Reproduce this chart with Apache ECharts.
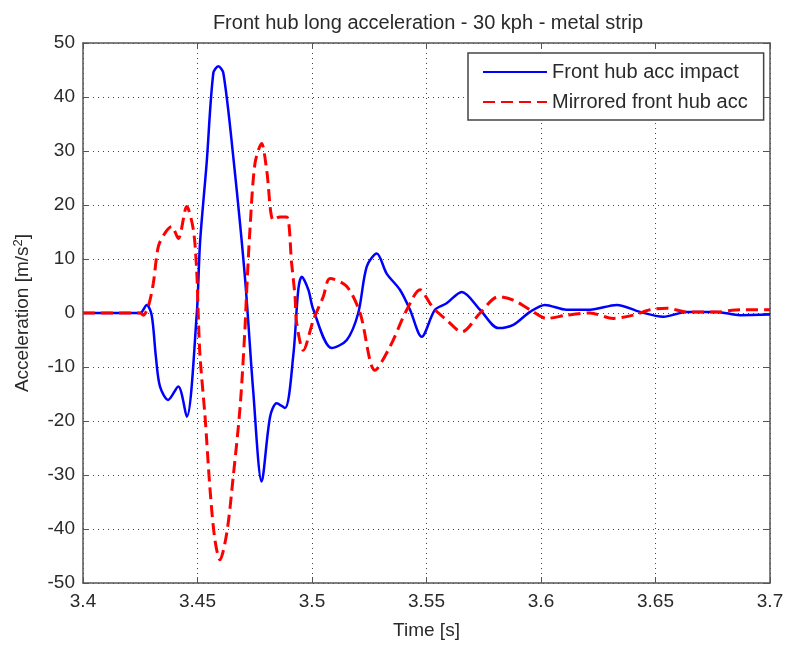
<!DOCTYPE html>
<html>
<head>
<meta charset="utf-8">
<script src="https://cdn.jsdelivr.net/npm/echarts@6/dist/echarts.min.js"></script>
<style>
  html, body { margin: 0; padding: 0; background: #fff; }
  #chart { width: 787px; height: 648px; }
</style>
</head>
<body>
<div id="chart"></div>
<script>
// time [s] and acceleration [m/s^2]
const impactTime = [3.4, 3.4249, 3.4278, 3.4300, 3.4318, 3.4336, 3.4372, 3.4416, 3.4453, 3.4497, 3.4511,
  3.4540, 3.4569, 3.4591, 3.4613, 3.4656, 3.4707, 3.4743, 3.4780, 3.4817, 3.4846, 3.4882, 3.4918, 3.4940,
  3.4955, 3.4984, 3.5006, 3.5086, 3.5152, 3.5202, 3.5239, 3.5283, 3.5326, 3.5384, 3.5428, 3.5479, 3.5537,
  3.5588, 3.5654, 3.5734, 3.5814, 3.5879, 3.5952, 3.6017, 3.6112, 3.6214, 3.6331, 3.6432, 3.6534, 3.6636,
  3.6767, 3.6869, 3.7];
const impactAcc = [0, 0, 1.5, -0.4, -8, -13.6, -16.1, -13.6, -19.2, 0, 13,
  27.8, 44.4, 45.7, 44.4, 29, 6.7, -14.3, -31.2, -19.2, -16.7, -17.6, -8, 4.3,
  6.7, 4.3, 0.6, -6.5, -5, 0, 8.6, 11, 7.3, 4.3, 0.6, -4.4, 0.6,
  1.8, 3.9, 0.6, -2.8, -2.2, 0.2, 1.5, 0.6, 0.6, 1.5, 0.2, -0.7, 0.2,
  0.2, -0.4, -0.3];

const mirrorTime = [3.4, 3.4249, 3.4263, 3.4285, 3.4307, 3.4329, 3.4358, 3.4387, 3.4416, 3.4453, 3.4482,
  3.4497, 3.4503, 3.4511, 3.4533, 3.4555, 3.4576, 3.4598, 3.4628, 3.4656, 3.4686, 3.4707, 3.4715, 3.4729,
  3.4751, 3.4780, 3.4802, 3.4831, 3.4860, 3.4890, 3.4911, 3.4926, 3.4933, 3.4962, 3.5006, 3.5049, 3.5079,
  3.5152, 3.5210, 3.5275, 3.5341, 3.5414, 3.5472, 3.5515, 3.5537, 3.5588, 3.5654, 3.5734, 3.5814, 3.5879,
  3.5952, 3.6025, 3.6112, 3.6214, 3.6316, 3.6403, 3.6476, 3.6549, 3.6636, 3.6767, 3.6869, 3.7];
const mirrorAcc = [0, 0, -0.4, 1.2, 5.5, 12.3, 14.8, 16, 13.8, 19.7, 15.4,
  7.4, 0, -8, -19.2, -32.8, -42, -45.7, -40.7, -30.3, -17.4, -3.1, 4.3, 15.4,
  27.7, 31.4, 26.5, 17.2, 17.8, 17.8, 9.2, 3, -1.9, -6.9, -1.3, 3, 6.4,
  4.9, 0, -10.6, -6.2, 0.6, 4.3, 1.8, 0.6, -1.3, -3.5, 0, 3, 2.4,
  0.6, -1, -0.4, 0, -1, -0.4, 0.6, 0.9, 0.2, 0.2, 0.6, 0.6];

const seriesNames = ['Front hub acc impact', 'Mirrored front hub acc'];

const zip = (xs, ys) => xs.map((x, i) => [x, ys[i]]);

const font = 'Liberation Sans';
const fs = 19;
const txtCol = '#2a2a2a';
const axisCol = '#555';

let myChart = echarts.init(document.getElementById('chart'));

const boxAxis = {
  axisLine: { show: true, onZero: false, lineStyle: { color: axisCol, width: 1.5 } },
  axisTick: { show: true, inside: true, length: 6, lineStyle: { color: axisCol, width: 1 } }
};

myChart.setOption({
  animation: false,
  title: {
    text: 'Front hub long acceleration - 30 kph - metal strip',
    left: 423, top: 8, textAlign: 'center',
    textStyle: { fontFamily: font, fontSize: 20, fontWeight: 'normal', color: txtCol }
  },
  legend: {
    orient: 'vertical',
    left: 468, top: 53,
    itemWidth: 64, itemHeight: 20, itemGap: 10,
    padding: [9, 16, 8, 14],
    borderColor: '#444', borderWidth: 1.5, backgroundColor: '#fff',
    itemStyle: { opacity: 0 },
    textStyle: { fontFamily: font, fontSize: 20, color: txtCol },
    data: seriesNames
  },
  grid: { left: 83, right: 17, top: 43, bottom: 65, containLabel: false },
  xAxis: [{
    type: 'value', min: 3.4, max: 3.7, interval: 0.05,
    name: 'Time [s]', nameLocation: 'middle', nameGap: 38,
    nameTextStyle: { fontFamily: font, fontSize: fs, color: txtCol },
    ...boxAxis,
    axisLabel: { fontFamily: font, fontSize: fs, color: txtCol, margin: 9,
      formatter: v => String(parseFloat(v.toFixed(2))) },
    splitLine: { show: true, lineStyle: { color: '#444', type: [1, 4], width: 1 } }
  }, {
    type: 'value', position: 'top', min: 3.4, max: 3.7, interval: 0.05,
    ...boxAxis, axisLabel: { show: false }, splitLine: { show: false }
  }],
  yAxis: [{
    type: 'value', min: -50, max: 50, interval: 10,
    name: '{a|Acceleration [m/s}{s|2}{a|]}', nameLocation: 'middle', nameGap: 50,
    nameTextStyle: {
      rich: {
        a: { fontFamily: font, fontSize: fs, color: txtCol },
        s: { fontFamily: font, fontSize: 13, color: txtCol, verticalAlign: 'top', padding: [0, 0, 8, 0] }
      }
    },
    ...boxAxis,
    axisLabel: { fontFamily: font, fontSize: fs, color: txtCol, margin: 8 },
    splitLine: { show: true, lineStyle: { color: '#444', type: [1, 4], width: 1 } }
  }, {
    type: 'value', position: 'right', min: -50, max: 50, interval: 10,
    ...boxAxis, axisLabel: { show: false }, splitLine: { show: false }
  }],
  series: [{
    name: seriesNames[0], type: 'line', data: zip(impactTime, impactAcc),
    showSymbol: false, symbol: 'none', smooth: 0.3,
    lineStyle: { color: '#0000ff', width: 2.5 }, itemStyle: { color: '#0000ff' }
  }, {
    name: seriesNames[1], type: 'line', data: zip(mirrorTime, mirrorAcc),
    showSymbol: false, symbol: 'none', smooth: 0.3,
    lineStyle: { color: '#ff0000', width: 3, type: [12, 6] }, itemStyle: { color: '#ff0000' }
  }]
});
</script>
</body>
</html>
